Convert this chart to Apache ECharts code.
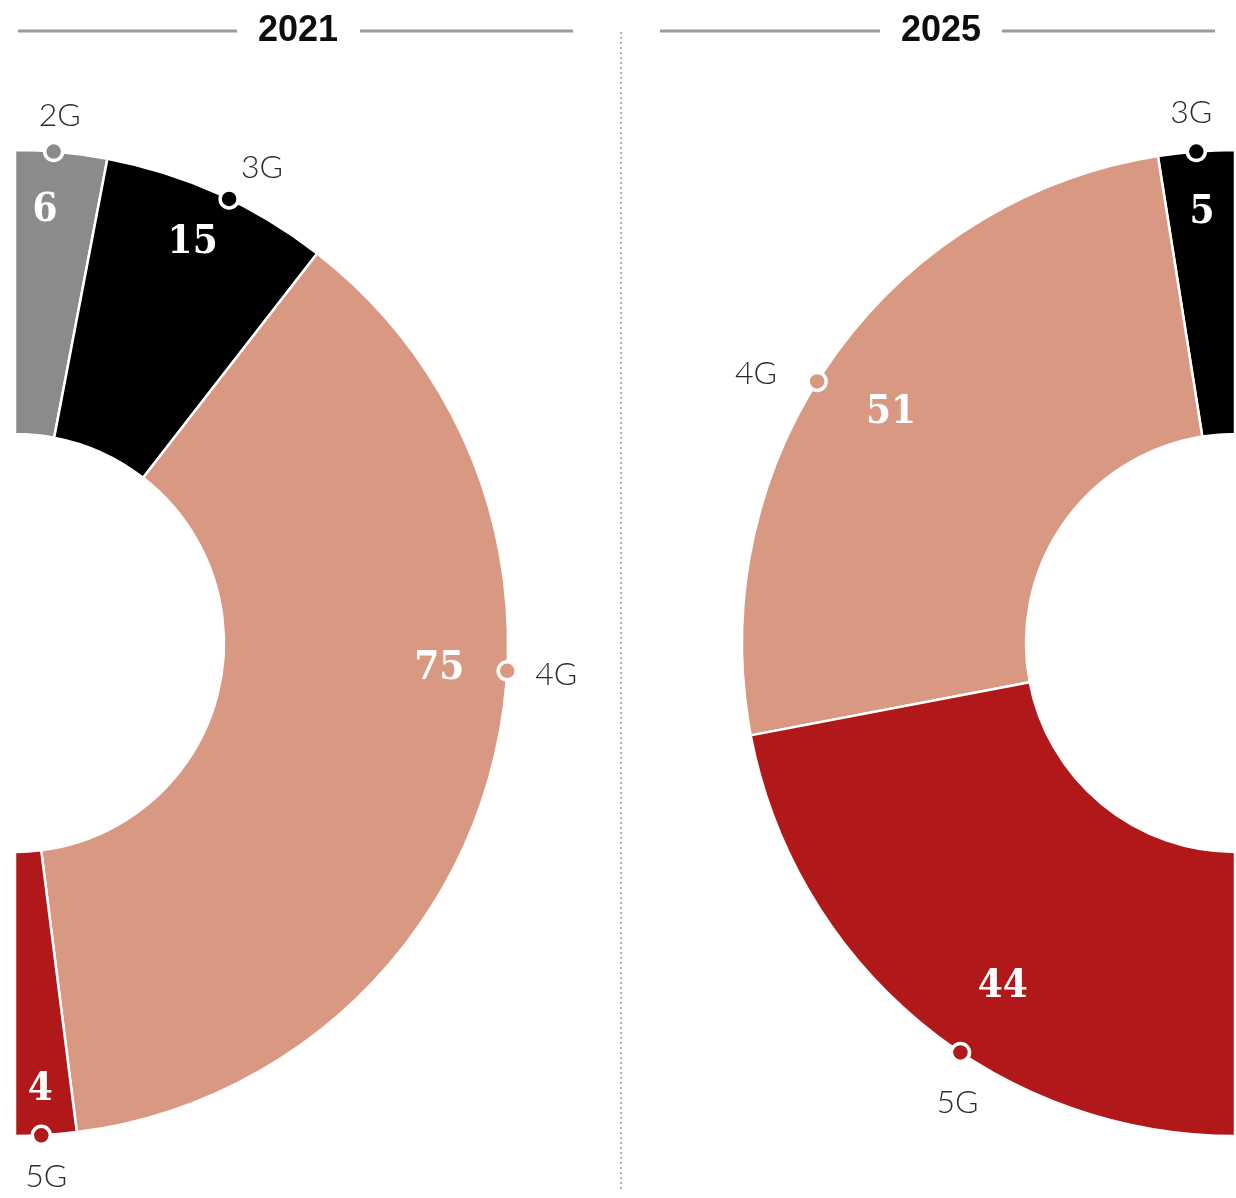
<!DOCTYPE html>
<html><head><meta charset="utf-8">
<script src="https://cdn.jsdelivr.net/npm/echarts@6/dist/echarts.min.js"></script>
<style>html,body{margin:0;padding:0;background:#fff}#c{width:1236px;height:1198px}</style>
</head><body><div id="c"></div>
<script>
// ---- data ----
const years = ['2021', '2025'];
const cats2021 = ['2G', '3G', '4G', '5G'];
const vals2021 = [6, 15, 75, 4];
const cats2025 = ['3G', '4G', '5G'];
const vals2025 = [5, 51, 44];

// ---- styles / layout (not data) ----
const catColors = { '2G': '#8b8b8b', '3G': '#000000', '4G': '#d99882', '5G': '#b0181a' };
const CY = 643, R_OUT = 493, R_IN = 209;
const centers = [[15, CY], [1235, CY]];
// anchors in polar units: radius in % of outer radius, angle in % of a half turn
const markerAngle2021 = [2.5, 14.3, 51.8, 98.3];
const numberPos2021 = [[88, 2.2], [88.8, 13.3], [86.2, 51.9], [90.8, 98.2]];
const nameOffset2021 = [[6, -36], [33, -31], [49, 4], [5, 41]];
const markerAngle2025 = [2.5, 32.2, 81.2];
const numberPos2025 = [[87.6, 2.44], [84, 31.2], [84.2, 81.1]];
const nameOffset2025 = [[-5, -39], [-61, -8], [-3, 50]];

const NUM_FONT = '"DejaVu Serif Condensed", "DejaVu Serif", serif';
const NAME_FONT = 'Lato, "Open Sans", sans-serif';

function pieSeries(i, cats, vals, clockwise) {
  const total = vals.reduce((a, b) => a + b, 0);
  const data = cats.map((c, k) => ({
    name: c, value: vals[k],
    itemStyle: { color: catColors[c], borderColor: '#ffffff', borderWidth: 2.5 }
  }));
  data.push({ name: '', value: total, itemStyle: { color: 'rgba(0,0,0,0)', borderWidth: 0 } });
  return {
    type: 'pie', center: centers[i], radius: [R_IN, R_OUT], startAngle: 90, clockwise,
    silent: true, animation: false, label: { show: false }, labelLine: { show: false },
    emphasis: { disabled: true }, data, z: 1
  };
}
function markerSeries(i, cats, angles, offsets) {
  return {
    type: 'scatter', coordinateSystem: 'polar', polarIndex: i, symbol: 'circle', symbolSize: 18,
    silent: true, animation: false, z: 5,
    data: cats.map((c, k) => ({
      value: [100, angles[k]],
      itemStyle: { color: catColors[c], borderColor: '#ffffff', borderWidth: 3.5, opacity: 1 },
      label: {
        show: true, position: 'inside', offset: offsets[k], formatter: c,
        color: '#2b2b2b', fontSize: 32, fontFamily: NAME_FONT, fontWeight: 300
      }
    }))
  };
}
function numberSeries(i, vals, pos) {
  return {
    type: 'scatter', coordinateSystem: 'polar', polarIndex: i, symbol: 'circle', symbolSize: 1,
    silent: true, animation: false, z: 6,
    itemStyle: { color: 'rgba(0,0,0,0)', opacity: 1 },
    data: vals.map((v, k) => ({
      value: [pos[k][0], pos[k][1]],
      label: {
        show: true, position: 'inside', formatter: String(v),
        color: '#ffffff', fontSize: 40, fontWeight: 'bold', fontFamily: NUM_FONT
      }
    }))
  };
}

const chart = echarts.init(document.getElementById('c'), null, { renderer: 'canvas' });
const axisOff = { show: false, axisLine: { show: false }, axisTick: { show: false }, axisLabel: { show: false }, splitLine: { show: false } };
const titleFont = { fontSize: 36, fontWeight: 'bold', fontFamily: '"Liberation Sans", Arial, sans-serif', fill: '#0d0d0d', align: 'center', verticalAlign: 'middle' };
const ruleStyle = { stroke: '#9a9a9a', lineWidth: 3 };

chart.setOption({
  backgroundColor: '#ffffff',
  animation: false,
  polar: centers.map(c => ({ center: c, radius: R_OUT })),
  angleAxis: [0, 1].map(i => Object.assign({ polarIndex: i, type: 'value', min: 0, max: 200, startAngle: 90, clockwise: i === 0 }, axisOff)),
  radiusAxis: [0, 1].map(i => Object.assign({ polarIndex: i, type: 'value', min: 0, max: 100 }, axisOff)),
  graphic: [
    { type: 'line', shape: { x1: 18, y1: 31, x2: 237, y2: 31 }, style: ruleStyle },
    { type: 'line', shape: { x1: 360, y1: 31, x2: 573, y2: 31 }, style: ruleStyle },
    { type: 'text', x: 298, y: 31, style: Object.assign({ text: years[0] }, titleFont) },
    { type: 'line', shape: { x1: 660, y1: 31, x2: 880, y2: 31 }, style: ruleStyle },
    { type: 'line', shape: { x1: 1002, y1: 31, x2: 1215, y2: 31 }, style: ruleStyle },
    { type: 'text', x: 941, y: 31, style: Object.assign({ text: years[1] }, titleFont) },
    { type: 'line', shape: { x1: 621, y1: 32, x2: 621, y2: 1192 }, style: { stroke: '#b0b0b0', lineWidth: 2, lineDash: [2, 3] } }
  ],
  series: [
    pieSeries(0, cats2021, vals2021, true),
    pieSeries(1, cats2025, vals2025, false),
    markerSeries(0, cats2021, markerAngle2021, nameOffset2021),
    markerSeries(1, cats2025, markerAngle2025, nameOffset2025),
    numberSeries(0, vals2021, numberPos2021),
    numberSeries(1, vals2025, numberPos2025)
  ]
});
</script>
</body></html>
